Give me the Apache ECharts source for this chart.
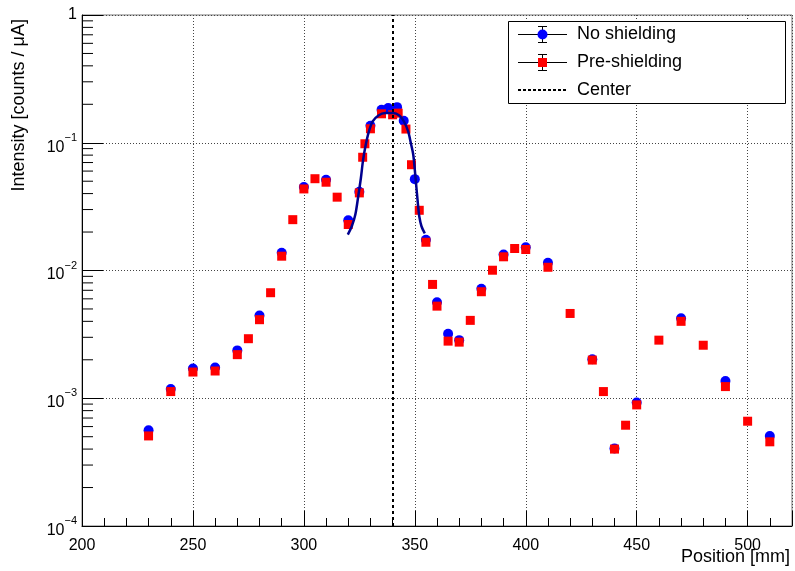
<!DOCTYPE html>
<html><head><meta charset="utf-8">
<script src="https://cdn.jsdelivr.net/npm/echarts@6/dist/echarts.min.js"></script>
<style>html,body{margin:0;padding:0;background:#fff}#c{width:795px;height:571px}</style>
</head><body><div id="c"></div>
<script>
// ---- data ----
const noShieldPos = [230,240,250,260,270,280,290,300,310,320,325,330,335,338,342,345,350,355,360,365,370,380,390,400,410,430,440,450,470,490,510];
const noShieldVal = [5.62e-4,1.18e-3,1.71e-3,1.74e-3,2.37e-3,4.45e-3,1.375e-2,4.51e-2,5.14e-2,
  2.47e-2,4.14e-2,0.136,0.181,0.187,0.190,0.1485,0.0519,0.0174,
  5.65e-3,3.20e-3,2.85e-3,7.19e-3,1.334e-2,1.52e-2,1.148e-2,
  2.02e-3,4.05e-4,9.25e-4,4.22e-3,1.365e-3,5.07e-4];
const preShieldPos = [230,240,250,260,270,275,280,285,290,295,300,305,310,315,
  320,325,326.5,327.5,330,335,340,342.5,346,348.5,352,355,
  358,360,365,370,375,380,385,390,395,400,410,
  420,430,435,440,445,450,460,470,480,490,500,510];
const preShieldVal = [5.07e-4,1.128e-3,1.604e-3,1.634e-3,2.194e-3,2.925e-3,4.12e-3,6.70e-3,1.294e-2,2.50e-2,4.35e-2,5.23e-2,4.91e-2,3.75e-2,
  2.29e-2,4.05e-2,7.70e-2,9.82e-2,0.1286,0.1685,0.1655,0.1706,0.128,6.73e-2,2.96e-2,1.664e-2,
  7.78e-3,5.26e-3,2.80e-3,2.75e-3,4.07e-3,6.82e-3,1.005e-2,1.28e-2,1.486e-2,1.46e-2,1.06e-2,
  4.61e-3,1.99e-3,1.128e-3,4.00e-4,6.15e-4,8.87e-4,2.85e-3,4.00e-3,2.60e-3,1.234e-3,6.61e-4,4.56e-4];
const fitPos = [319.8,321.6,323.2,324.6,325.7,326.6,327.6,329.1,331.0,333.6,336.6,340.3,343.0,345.1,347.0,348.2,349.3,350.4,351.5,352.0,353.0,354.5];
const fitVal = [0.0191,0.0222,0.0274,0.0392,0.053,0.0714,0.091,0.119,0.1467,0.1634,0.1706,0.1706,0.1634,0.1467,0.1225,0.0995,0.0806,0.0514,0.0318,0.0266,0.0222,0.0195];
const centerPos = [340];
const seriesNames = ['No shielding', 'Pre-shielding', 'Center'];
const xTitle = 'Position [mm]';
const yTitle = 'Intensity [counts / \u03bcA]';
const yMinorMult = [2,3,4,5,6,7,8,9];
const yDecades = [-4,-3,-2,-1];

// ---- chart ----
const FONT = '"Liberation Sans", Arial, Helvetica, sans-serif';
const minorTickVals = [];
yDecades.forEach(d => yMinorMult.forEach(m => minorTickVals.push(m * Math.pow(10, d))));

const chart = echarts.init(document.getElementById('c'), null, {renderer: 'canvas'});
const gridDot = {show: true, lineStyle: {color: '#444', width: 1, type: [1, 2]}};

const option = {
  animation: false,
  backgroundColor: '#fff',
  grid: {left: 82, right: 1, top: 15, bottom: 45, show: true, borderColor: '#777', borderWidth: 1, backgroundColor: 'transparent', containLabel: false},
  xAxis: [
    {type: 'value', min: 200, max: 520, interval: 50, position: 'bottom',
     axisLine: {show: true, lineStyle: {color: '#000', width: 1}},
     axisTick: {show: true, inside: true, length: 15, lineStyle: {color: '#000', width: 1}},
     axisLabel: {show: true, color: '#000', fontSize: 16, fontFamily: FONT, margin: 12,
       formatter: v => (v % 50 === 0 && v <= 500) ? String(v) : ''},
     splitLine: gridDot},
    {type: 'value', min: 200, max: 520, interval: 10, position: 'bottom',
     axisLine: {show: false},
     axisTick: {show: true, inside: true, length: 8, lineStyle: {color: '#000', width: 1}},
     axisLabel: {show: false}, splitLine: {show: false}}
  ],
  yAxis: {
    type: 'log', logBase: 10, min: 1e-4, max: 1,
    axisLine: {show: true, lineStyle: {color: '#000', width: 1}},
    axisTick: {show: true, inside: true, length: 21, lineStyle: {color: '#000', width: 1}},
    axisLabel: {show: true, color: '#000', fontSize: 16, fontFamily: FONT, margin: 5,
      formatter: v => {
        const e = Math.round(Math.log10(v));
        if (e === 0) return '1';
        return '{b|10}{sup|\u2212' + (-e) + '}';
      },
      rich: {
        b: {fontSize: 16, fontFamily: FONT, color: '#000', padding: [9, 0, 0, 0]},
        sup: {fontSize: 11, fontFamily: FONT, color: '#000', padding: [0, 0, 10, 0]}
      }},
    splitLine: gridDot
  },
  series: [
    {name: seriesNames[0], type: 'scatter', xAxisIndex: 0, symbol: 'circle', symbolSize: 10,
     itemStyle: {color: '#0000ff', opacity: 1}, z: 3,
     data: noShieldPos.map((p, i) => [p, noShieldVal[i]])},
    {name: seriesNames[1], type: 'scatter', xAxisIndex: 0, symbol: 'rect', symbolSize: 9,
     itemStyle: {color: '#ff0000', opacity: 1}, z: 4,
     data: preShieldPos.map((p, i) => [p, preShieldVal[i]])},
    {name: 'fit', type: 'line', xAxisIndex: 0, showSymbol: false, smooth: 0.3, z: 5,
     lineStyle: {color: '#00008f', width: 2.5},
     data: fitPos.map((p, i) => [p, fitVal[i]])},
    {name: seriesNames[2], type: 'line', xAxisIndex: 0, data: [], z: 6,
     markLine: {silent: true, symbol: 'none', label: {show: false}, animation: false,
       lineStyle: {color: '#000', width: 2, type: [3, 3]},
       data: centerPos.map(c => ({xAxis: c}))}},
    {name: 'minorTicks', type: 'custom', xAxisIndex: 0, silent: true, z: 7, clip: false,
     data: minorTickVals.map(v => [200, v]),
     renderItem: (params, api) => {
       const p = api.coord([200, api.value(1)]);
       return {type: 'line', shape: {x1: p[0], y1: p[1], x2: p[0] + 11, y2: p[1]},
               style: {stroke: '#000', lineWidth: 1}};
     }}
  ],
  graphic: [
    {type: 'text', x: 790, y: 557, style: {text: xTitle, font: '18px ' + FONT, fill: '#000', align: 'right', verticalAlign: 'middle'}},
    {type: 'text', x: 19, y: 19, rotation: Math.PI / 2, style: {text: yTitle, font: '18px ' + FONT, fill: '#000', align: 'right', verticalAlign: 'middle'}},
    {type: 'rect', shape: {x: 508.5, y: 21.5, width: 277, height: 82}, style: {fill: '#fff', stroke: '#000', lineWidth: 1}, z: 100},
    // row 1
    {type: 'line', shape: {x1: 518, y1: 34.5, x2: 567, y2: 34.5}, style: {stroke: '#000', lineWidth: 1}, z: 101},
    {type: 'line', shape: {x1: 542.5, y1: 26, x2: 542.5, y2: 43}, style: {stroke: '#000', lineWidth: 1}, z: 101},
    {type: 'line', shape: {x1: 538, y1: 26.5, x2: 547, y2: 26.5}, style: {stroke: '#000', lineWidth: 1}, z: 101},
    {type: 'line', shape: {x1: 538, y1: 42.5, x2: 547, y2: 42.5}, style: {stroke: '#000', lineWidth: 1}, z: 101},
    {type: 'circle', shape: {cx: 542.5, cy: 34.5, r: 5}, style: {fill: '#0000ff'}, z: 102},
    {type: 'text', x: 577, y: 34, style: {text: seriesNames[0], font: '18px ' + FONT, fill: '#000', verticalAlign: 'middle'}, z: 102},
    // row 2
    {type: 'line', shape: {x1: 518, y1: 62.5, x2: 567, y2: 62.5}, style: {stroke: '#000', lineWidth: 1}, z: 101},
    {type: 'line', shape: {x1: 542.5, y1: 54, x2: 542.5, y2: 71}, style: {stroke: '#000', lineWidth: 1}, z: 101},
    {type: 'line', shape: {x1: 538, y1: 54.5, x2: 547, y2: 54.5}, style: {stroke: '#000', lineWidth: 1}, z: 101},
    {type: 'line', shape: {x1: 538, y1: 70.5, x2: 547, y2: 70.5}, style: {stroke: '#000', lineWidth: 1}, z: 101},
    {type: 'rect', shape: {x: 538, y: 58, width: 9, height: 9}, style: {fill: '#ff0000'}, z: 102},
    {type: 'text', x: 577, y: 62, style: {text: seriesNames[1], font: '18px ' + FONT, fill: '#000', verticalAlign: 'middle'}, z: 102},
    // row 3
    {type: 'line', shape: {x1: 518, y1: 90, x2: 567, y2: 90}, style: {stroke: '#000', lineWidth: 2, lineDash: [3, 2]}, z: 101},
    {type: 'text', x: 577, y: 90, style: {text: seriesNames[2], font: '18px ' + FONT, fill: '#000', verticalAlign: 'middle'}, z: 102}
  ]
};
chart.setOption(option);
</script>
</body></html>
